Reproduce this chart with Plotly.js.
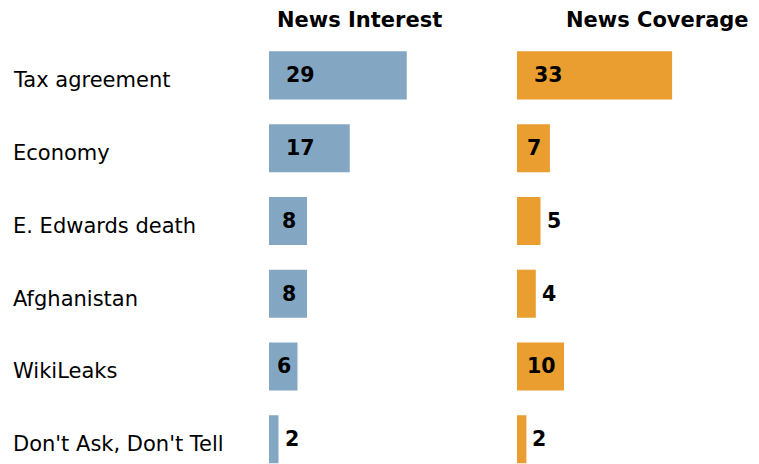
<!DOCTYPE html>
<html>
<head>
<meta charset="utf-8">
<script src="https://cdn.plot.ly/plotly-3.0.1.min.js"></script>
<style>html,body{margin:0;padding:0;background:#fff;}#chart{width:759px;height:464px;}</style>
</head>
<body>
<div id="chart"></div>
<script>
const categories = ["Tax agreement", "Economy", "E. Edwards death", "Afghanistan", "WikiLeaks", "Don't Ask, Don't Tell"];
const newsInterest = [29, 17, 8, 8, 6, 2];
const newsCoverage = [33, 7, 5, 4, 10, 2];
const panelTitles = ["News Interest", "News Coverage"];

const FONT = "DejaVu Sans, Verdana, sans-serif";
const BLUE = "#83a7c3";
const ORANGE = "#e99e2f";

const traces = [
  {type: "bar", orientation: "h", y: categories, x: newsInterest, xaxis: "x", yaxis: "y",
   marker: {color: BLUE}, width: 0.66, hoverinfo: "skip"},
  {type: "bar", orientation: "h", y: categories, x: newsCoverage, xaxis: "x2", yaxis: "y",
   marker: {color: ORANGE}, width: 0.66, hoverinfo: "skip"}
];

function valueAnnotations(values, xref) {
  return values.map((v, i) => {
    const base = {xref: xref, yref: "y", y: categories[i], text: "<b>" + v + "</b>",
      showarrow: false, yanchor: "middle", font: {family: FONT, size: 20.5, color: "#000"}};
    if (v >= 11) return Object.assign(base, {x: 0, xanchor: "left", xshift: 15});
    if (v >= 6) return Object.assign(base, {x: v / 2, xanchor: "center", xshift: 1});
    return Object.assign(base, {x: v, xanchor: "left", xshift: 4});
  });
}

const annotations = [];
categories.forEach(c => annotations.push({
  xref: "paper", yref: "y", x: 11 / 759, y: c, xanchor: "left", yanchor: "middle", yshift: -5,
  text: c, showarrow: false, font: {family: FONT, size: 21, color: "#000"}
}));
annotations.push(...valueAnnotations(newsInterest, "x"));
annotations.push(...valueAnnotations(newsCoverage, "x2"));
annotations.push({xref: "paper", yref: "paper", x: 359 / 759, y: 1.044, xanchor: "center", yanchor: "middle",
  text: "<b>" + panelTitles[0] + "</b>", showarrow: false, font: {family: FONT, size: 21, color: "#000"}});
annotations.push({xref: "paper", yref: "paper", x: 657 / 759, y: 1.044, xanchor: "center", yanchor: "middle",
  text: "<b>" + panelTitles[1] + "</b>", showarrow: false, font: {family: FONT, size: 21, color: "#000"}});

const layout = {
  width: 759, height: 464,
  margin: {l: 0, r: 0, t: 39, b: 0},
  paper_bgcolor: "#fff", plot_bgcolor: "#fff",
  showlegend: false,
  xaxis: {domain: [269 / 759, (269 + 190) / 759], range: [0, 40], visible: false, fixedrange: true},
  xaxis2: {domain: [517 / 759, (517 + 188) / 759], range: [0, 40], visible: false, fixedrange: true},
  yaxis: {type: "category", range: [5.34, -0.5], visible: false, fixedrange: true},
  annotations: annotations
};

Plotly.newPlot("chart", traces, layout, {displayModeBar: false, staticPlot: true});
</script>
</body>
</html>
